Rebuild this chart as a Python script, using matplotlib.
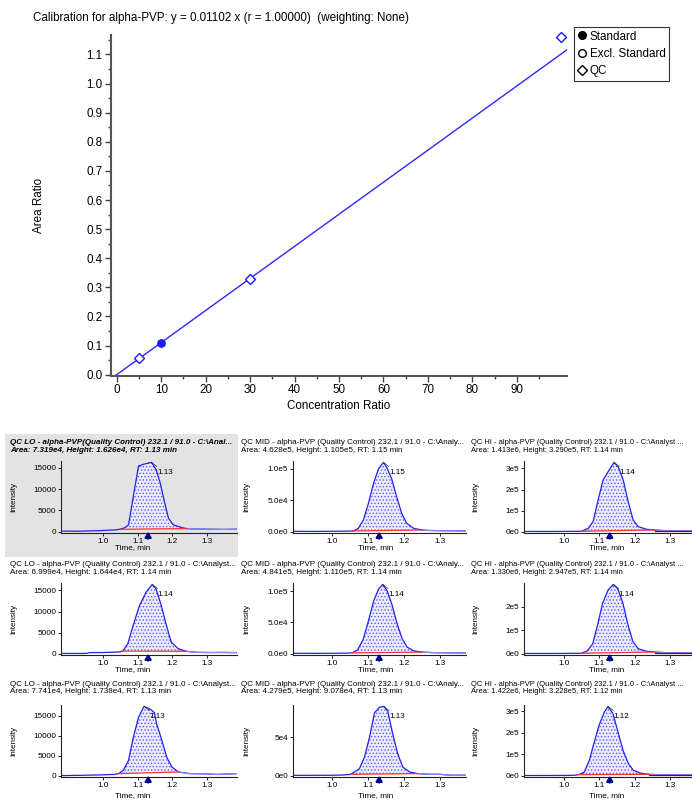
import numpy as np
import matplotlib.pyplot as plt
from matplotlib.patches import Rectangle
from matplotlib.lines import Line2D

plt.rcParams['font.family'] = ['Liberation Sans', 'DejaVu Sans']
plt.rcParams['hatch.linewidth'] = 0.6

W, H = 692, 800

# ---- calibration data ----
slope = 0.01102
std_x = [10.0]
std_y = [0.110]
qc_x = [5.0, 30.0, 100.0]
qc_y = [0.058, 0.330, 1.160]
cal_xticks = [0, 10, 20, 30, 40, 50, 60, 70, 80, 90]
cal_yticks = [0.0, 0.1, 0.2, 0.3, 0.4, 0.5, 0.6, 0.7, 0.8, 0.9, 1.0, 1.1]

# ---- chromatogram panels (row by row) ----
panel_titles = [
    "QC LO - alpha-PVP(Quality Control) 232.1 / 91.0 - C:\\Anal...",
    "QC MID - alpha-PVP (Quality Control) 232.1 / 91.0 - C:\\Analy...",
    "QC HI - alpha-PVP (Quality Control) 232.1 / 91.0 - C:\\Analyst ...",
    "QC LO - alpha-PVP (Quality Control) 232.1 / 91.0 - C:\\Analyst...",
    "QC MID - alpha-PVP (Quality Control) 232.1 / 91.0 - C:\\Analy...",
    "QC HI - alpha-PVP (Quality Control) 232.1 / 91.0 - C:\\Analyst ...",
    "QC LO - alpha-PVP (Quality Control) 232.1 / 91.0 - C:\\Analyst...",
    "QC MID - alpha-PVP (Quality Control) 232.1 / 91.0 - C:\\Analy...",
    "QC HI - alpha-PVP (Quality Control) 232.1 / 91.0 - C:\\Analyst ...",
]
areas = ["7.319e4", "4.628e5", "1.413e6", "6.999e4", "4.841e5", "1.330e6",
         "7.741e4", "4.279e5", "1.422e6"]
heights = ["1.626e4", "1.105e5", "3.290e5", "1.644e4", "1.110e5", "2.947e5",
           "1.738e4", "9.078e4", "3.228e5"]
rts = [1.13, 1.15, 1.14, 1.14, 1.14, 1.14, 1.13, 1.13, 1.12]
expected_rt = 1.13

lo1_t = [0.877, 0.93, 0.99, 1.034, 1.048, 1.062, 1.073, 1.087, 1.102, 1.116, 1.128, 1.140,
         1.153, 1.165, 1.177, 1.189, 1.203, 1.227, 1.242, 1.27, 1.31, 1.35, 1.388]
lo1_i = [120, 100, 240, 400, 550, 900, 1580, 8290, 15400, 15800, 16050, 16260,
         14600, 11450, 7110, 3160, 1580, 950, 710, 600, 560, 520, 560]
mid1_t = [0.89, 0.95, 1.00, 1.04, 1.058, 1.072, 1.086, 1.100, 1.114, 1.128, 1.142, 1.151,
          1.165, 1.179, 1.193, 1.207, 1.226, 1.25, 1.27, 1.30, 1.34, 1.372]
mid1_i = [400, 300, 500, 700, 1000, 5300, 18400, 44700, 76300, 100000, 110500, 102600,
          84200, 55300, 28900, 13200, 5300, 2600, 1800, 1500, 1300, 1000]
hi1_t = [0.888, 0.95, 1.00, 1.05, 1.069, 1.083, 1.097, 1.111, 1.125, 1.142, 1.154, 1.168,
         1.182, 1.196, 1.210, 1.234, 1.258, 1.29, 1.33, 1.362]
hi1_i = [800, 600, 900, 1500, 15800, 47400, 150000, 245000, 284000, 329000, 308000, 245000,
         142000, 55000, 23700, 11000, 7900, 4000, 3000, 2500]
lo2_t = [0.877, 0.95, 0.96, 1.00, 1.047, 1.056, 1.071, 1.085, 1.105, 1.124, 1.142, 1.153,
         1.168, 1.183, 1.197, 1.217, 1.241, 1.27, 1.31, 1.35, 1.388]
lo2_i = [40, 40, 240, 260, 400, 600, 2370, 6320, 11450, 14600, 16440, 15400,
         11450, 6710, 2760, 1185, 550, 300, 260, 280, 240]
mid2_t = [0.89, 0.95, 1.00, 1.04, 1.055, 1.07, 1.085, 1.10, 1.115, 1.128, 1.140, 1.152,
          1.166, 1.18, 1.194, 1.208, 1.226, 1.25, 1.28, 1.32, 1.372]
mid2_i = [500, 400, 500, 800, 1200, 6000, 22000, 52000, 85000, 103000, 111000, 101000,
          78000, 48000, 24000, 10500, 4500, 2400, 1600, 1300, 1100]
hi2_t = [0.888, 0.95, 1.00, 1.05, 1.067, 1.082, 1.096, 1.110, 1.125, 1.140, 1.153, 1.167,
         1.181, 1.195, 1.21, 1.234, 1.258, 1.29, 1.33, 1.362]
hi2_i = [700, 600, 800, 1500, 12000, 42000, 125000, 215000, 270000, 294700, 275000, 215000,
         125000, 52000, 21000, 10000, 7000, 3500, 2800, 2400]
lo3_t = [0.877, 0.95, 1.00, 1.03, 1.044, 1.058, 1.073, 1.087, 1.102, 1.118, 1.136, 1.148,
         1.155, 1.170, 1.184, 1.199, 1.218, 1.25, 1.29, 1.33, 1.388]
lo3_i = [0, 100, 200, 300, 500, 1330, 3810, 9620, 14600, 17380, 16670, 15840,
         12940, 8790, 4640, 2160, 910, 500, 450, 300, 500]
mid3_t = [0.89, 0.95, 1.00, 1.03, 1.051, 1.075, 1.089, 1.103, 1.117, 1.131, 1.143, 1.154,
          1.168, 1.182, 1.196, 1.215, 1.238, 1.27, 1.30, 1.33, 1.372]
mid3_i = [300, 400, 500, 800, 1700, 9050, 24100, 50000, 82300, 89700, 90780, 84500,
          54300, 28400, 11200, 4740, 2600, 1800, 1700, 500, 500]
hi3_t = [0.888, 0.95, 1.00, 1.03, 1.043, 1.058, 1.072, 1.087, 1.100, 1.115, 1.125, 1.139,
         1.154, 1.168, 1.183, 1.197, 1.216, 1.240, 1.27, 1.31, 1.362]
hi3_i = [500, 600, 800, 1500, 4500, 16700, 69700, 160600, 236000, 297000, 322800, 289000,
         198000, 115000, 54500, 24200, 12000, 6000, 4000, 3000, 2500]

trace_t = [lo1_t, mid1_t, hi1_t, lo2_t, mid2_t, hi2_t, lo3_t, mid3_t, hi3_t]
trace_i = [lo1_i, mid1_i, hi1_i, lo2_i, mid2_i, hi2_i, lo3_i, mid3_i, hi3_i]
peak_start = [1.048, 1.058, 1.05, 1.056, 1.055, 1.05, 1.044, 1.051, 1.043]
peak_end = [1.242, 1.25, 1.258, 1.241, 1.25, 1.258, 1.218, 1.238, 1.240]

lo_ticks = [0, 5000, 10000, 15000]
lo_labels = ["0", "5000", "10000", "15000"]
mid_ticks = [0, 5e4, 1e5]
mid_labels = ["0.0e0", "5.0e4", "1.0e5"]
mid3_ticks = [0, 5e4]
mid3_labels = ["0e0", "5e4"]
hi_ticks = [0, 1e5, 2e5, 3e5]
hi_labels = ["0e0", "1e5", "2e5", "3e5"]
panel_yticks = [(lo_ticks, lo_labels), (mid_ticks, mid_labels), (hi_ticks, hi_labels),
                (lo_ticks, lo_labels), (mid_ticks, mid_labels), (hi_ticks[:3], hi_labels[:3]),
                (lo_ticks, lo_labels), (mid3_ticks, mid3_labels), (hi_ticks, hi_labels)]
time_ticks = [1.0, 1.1, 1.2, 1.3]


def px_axes(fig, l, t, r, b):
    return fig.add_axes([l / W, 1 - b / H, (r - l) / W, (b - t) / H])


fig = plt.figure(figsize=(W / 100, H / 100), dpi=100)
FS = 8.4
fs = 5.9

# ---------------- calibration curve ----------------
ax = px_axes(fig, 111, 35, 567, 375.5)
blue = '#1a1aff'
ax.axline((0, 0), slope=slope, color='#2a2aff', lw=1.0, zorder=2)
ax.plot(std_x, std_y, 'o', color=blue, ms=5.3, zorder=3, clip_on=False)
ax.plot(qc_x, qc_y, 'D', mfc='white', mec=blue, mew=1.0, ms=5.6, zorder=3, clip_on=False)
ax.set_xlim(-1.3, 101.3)
ax.set_ylim(-0.003, 1.167)
ax.set_xticks(cal_xticks)
ax.set_xticks(np.arange(5, 100, 10), minor=True)
ax.set_yticks(cal_yticks)
ax.set_yticklabels([f"{v:.1f}" for v in cal_yticks])
ax.set_yticks(np.arange(0.05, 1.16, 0.1), minor=True)
for s in ['top', 'right']:
    ax.spines[s].set_visible(False)
for s in ['left', 'bottom']:
    ax.spines[s].set_color('#555555')
    ax.spines[s].set_linewidth(1.5)
ax.tick_params(which='major', length=4, width=1, color='#444444', labelsize=FS, pad=2)
ax.tick_params(which='minor', length=2.5, width=1, color='#444444')
ax.set_xlabel('Concentration Ratio', fontsize=FS, labelpad=3)
ax.set_ylabel('Area Ratio', fontsize=FS, labelpad=30)
fig.text(33 / W, 1 - 18 / H,
         'Calibration for alpha-PVP: y = 0.01102 x (r = 1.00000)  (weighting: None)',
         fontsize=FS, va='center', ha='left')

handles = [Line2D([], [], ls='none', marker='o', color='black', ms=5.5),
           Line2D([], [], ls='none', marker='o', mfc='white', mec='black', ms=5.5),
           Line2D([], [], ls='none', marker='D', mfc='white', mec='black', ms=5)]
leg = fig.legend(handles, ['Standard', 'Excl. Standard', 'QC'], loc='upper left',
                 bbox_to_anchor=(574 / W, 1 - 27 / H), fontsize=FS, frameon=True,
                 fancybox=False, borderpad=0.3, labelspacing=0.45, handlelength=0.8,
                 handletextpad=0.25, borderaxespad=0)
leg.get_frame().set_edgecolor('black')
leg.get_frame().set_linewidth(0.8)

# ---------------- chromatogram grid ----------------
col_lr = [(61, 237), (293, 466), (524, 692)]
col_xlim = [(0.877, 1.388), (0.890, 1.372), (0.888, 1.362)]
row_tb = [(461, 533), (583, 655), (705, 777)]
title_x = [10, 241, 471]
title_fs = [5.8, 5.8, 5.45]
title_y = [(443, 451), (565, 572.5), (684, 691.5)]
ylab_x = [14, 246.5, 476]
xlab_x = [133, 376, 607]
xlab_y = [548, 670, 796]

fig.add_artist(Rectangle((5 / W, 1 - 557 / H), 233 / W, 123 / H,
                         transform=fig.transFigure, facecolor='#e3e3e3',
                         edgecolor='none', zorder=-10))

for k in range(9):
    r, c = divmod(k, 3)
    l, rr = col_lr[c]
    t, b = row_tb[r]
    a = px_axes(fig, l, t, rr, b)
    if k == 0:
        a.set_facecolor('#e3e3e3')
    else:
        a.set_facecolor('none')
    tt = np.array(trace_t[k])
    ii = np.array(trace_i[k], dtype=float)
    peak = ii.max()
    a.set_xlim(*col_xlim[c])
    a.set_ylim(-0.02 * peak, 1.02 * peak)

    m = (tt >= peak_start[k] - 1e-9) & (tt <= peak_end[k] + 1e-9)
    ts, te = tt[m][0], tt[m][-1]
    vs, ve = ii[m][0], ii[m][-1]
    base = vs + (tt[m] - ts) / (te - ts) * (ve - vs)
    a.fill_between(tt[m], base, ii[m], facecolor='#ececff', edgecolor='#5a5af0',
                   hatch='.....', lw=0, zorder=1)
    a.plot(tt, ii, color='#2222ee', lw=0.9, zorder=3)
    tail = tt >= te
    a.plot(tt[tail], ii[tail], color='#8a8af0', lw=0.9, zorder=3)
    a.plot([ts, te], [vs, ve], color='#ff3030', lw=0.9, zorder=4)
    if c == 2:
        a.plot([te, tt[-1]], [ve * 0.4, ve * 0.4], color='#8b0000', lw=0.9, zorder=4)

    j = int(np.argmax(ii))
    a.annotate(f"{rts[k]:.2f}", xy=(tt[j], ii[j]), xytext=(4, -7.5),
               textcoords='offset points', fontsize=fs, va='center', ha='left',
               arrowprops=dict(arrowstyle='-', lw=0.5, color='#333333',
                               shrinkA=0, shrinkB=0))
    a.annotate('', xy=(expected_rt, 0), xytext=(0, -5), textcoords='offset points',
               arrowprops=dict(arrowstyle='-|>,head_width=0.18,head_length=0.3',
                               color='#00008b', lw=1.6, shrinkA=0, shrinkB=0),
               annotation_clip=False, zorder=6)

    a.set_xticks(time_ticks)
    a.set_xticklabels([f"{v:.1f}" for v in time_ticks])
    yt, yl = panel_yticks[k]
    a.set_yticks(yt)
    a.set_yticklabels(yl)
    for s in ['top', 'right']:
        a.spines[s].set_visible(False)
    for s in ['left', 'bottom']:
        a.spines[s].set_linewidth(0.8)
        a.spines[s].set_color('#222222')
    a.tick_params(length=2.5, width=0.6, labelsize=fs, pad=1)

    font_kw = dict(fontsize=title_fs[c], ha='left', va='center')
    if k == 0:
        font_kw.update(fontweight='bold', fontstyle='italic')
    fig.text(title_x[c] / W, 1 - title_y[r][0] / H, panel_titles[k], **font_kw)
    fig.text(title_x[c] / W, 1 - title_y[r][1] / H,
             f"Area: {areas[k]}, Height: {heights[k]}, RT: {rts[k]:.2f} min", **font_kw)
    fig.text(ylab_x[c] / W, 1 - (t + b) / 2 / H, 'Intensity', rotation=90,
             fontsize=fs, ha='center', va='center')
    fig.text(xlab_x[c] / W, 1 - xlab_y[r] / H, 'Time, min', fontsize=fs,
             ha='center', va='center')

fig.savefig('out.png', dpi=100)
